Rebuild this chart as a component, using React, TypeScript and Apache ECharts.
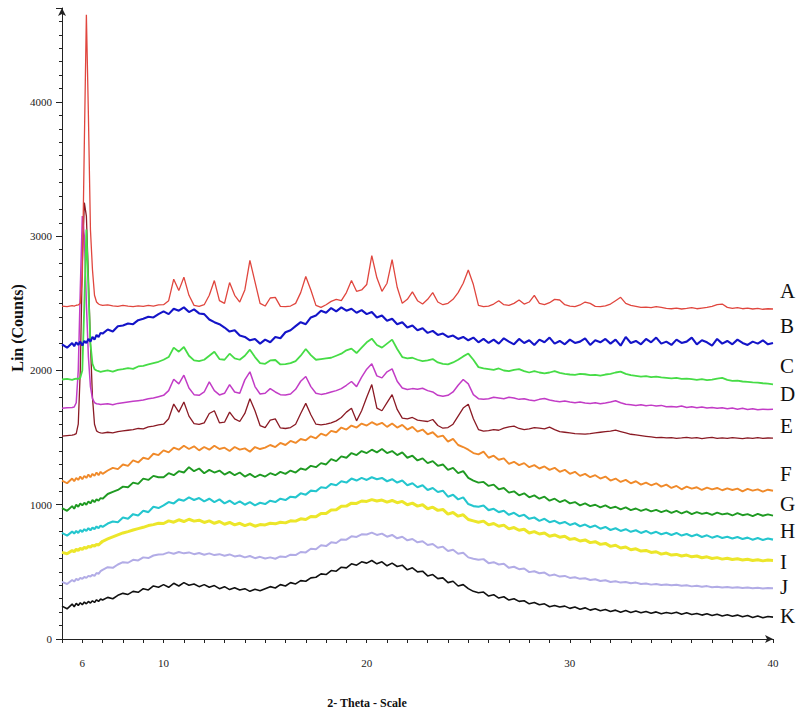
import React, { useEffect, useRef } from "react";
import * as echarts from "echarts";

// 2-theta scan grid (degrees)
const twoTheta = [
  5, 5.25, 5.5, 5.6, 5.7, 5.8, 5.9, 6, 6.1, 6.2, 6.3, 6.4, 6.5, 6.6, 6.7, 6.8, 6.9, 7, 7.25, 7.5, 7.75, 8, 8.25, 8.5, 8.75, 9, 9.25, 9.5, 9.75,
  10, 10.25, 10.5, 10.75, 11, 11.25, 11.5, 11.75, 12, 12.25, 12.5, 12.75, 13, 13.25, 13.5, 13.75, 14, 14.25, 14.5, 14.75,
  15, 15.25, 15.5, 15.75, 16, 16.25, 16.5, 16.75, 17, 17.25, 17.5, 17.75, 18, 18.25, 18.5, 18.75, 19, 19.25, 19.5, 19.75,
  20, 20.25, 20.5, 20.75, 21, 21.25, 21.5, 21.75, 22, 22.25, 22.5, 22.75, 23, 23.25, 23.5, 23.75, 24, 24.25, 24.5, 24.75,
  25, 25.25, 25.5, 25.75, 26, 26.25, 26.5, 26.75, 27, 27.25, 27.5, 27.75, 28, 28.25, 28.5, 28.75, 29, 29.25, 29.5, 29.75,
  30, 30.25, 30.5, 30.75, 31, 31.25, 31.5, 31.75, 32, 32.25, 32.5, 32.75, 33, 33.25, 33.5, 33.75, 34, 34.25, 34.5, 34.75,
  35, 35.25, 35.5, 35.75, 36, 36.25, 36.5, 36.75, 37, 37.25, 37.5, 37.75, 38, 38.25, 38.5, 38.75, 39, 39.25, 39.5, 39.75,
  40,
];

const sampleA = [
  2480, 2476, 2483, 2480, 2486, 2488, 2500, 2700, 3700, 4650, 3900, 3050, 2750, 2560, 2510, 2495, 2488, 2485, 2488, 2482, 2478, 2485, 2480, 2476, 2482, 2478, 2485, 2480, 2488,
  2490, 2520, 2680, 2595, 2695, 2560, 2485, 2478, 2490, 2560, 2670, 2520, 2500, 2655, 2560, 2510, 2600, 2820, 2660, 2500,
  2480, 2540, 2545, 2478, 2475, 2480, 2500, 2580, 2700, 2600, 2485, 2470, 2490, 2515, 2530, 2520, 2580, 2670, 2590, 2600,
  2640, 2855, 2690, 2590, 2650, 2825, 2620, 2500, 2530, 2585, 2520, 2495, 2530, 2580, 2510, 2490, 2500, 2530, 2580, 2650,
  2748, 2640, 2485, 2475, 2480, 2495, 2520, 2490, 2485, 2500, 2525, 2495, 2510, 2560, 2500, 2490, 2505, 2530, 2525, 2490,
  2480, 2475, 2488, 2510, 2500, 2478, 2475, 2482, 2495, 2520, 2545, 2500, 2485, 2478, 2470, 2472, 2468, 2475, 2470, 2462,
  2460, 2465, 2458, 2462, 2468, 2460, 2465, 2470, 2478, 2490, 2495, 2470, 2462, 2468, 2460, 2465, 2458, 2462, 2456, 2460,
  2458,
];

const sampleB = [
  2195, 2170, 2205, 2180, 2210, 2190, 2215, 2185, 2220, 2205, 2235, 2215, 2250, 2230, 2265, 2250, 2280, 2275, 2305, 2290, 2330, 2335, 2350, 2345, 2375, 2385, 2400, 2395, 2420,
  2440, 2420, 2460, 2445, 2470, 2435, 2455, 2425, 2420, 2380, 2360, 2345, 2320, 2290, 2300, 2260, 2250, 2225, 2235, 2200,
  2230, 2210, 2250, 2240, 2285, 2300, 2330, 2360, 2345, 2395, 2410, 2445, 2430, 2465, 2440, 2470, 2445, 2460, 2430, 2450,
  2420, 2435, 2395, 2410, 2370, 2385, 2345, 2360, 2320, 2335, 2300, 2315, 2280, 2295, 2265, 2275, 2250, 2260, 2235, 2250,
  2225, 2245, 2210, 2235, 2205, 2230, 2200, 2240, 2215, 2195, 2235, 2205, 2225, 2190, 2230, 2210, 2245, 2200, 2220, 2195,
  2230, 2205, 2215, 2240, 2190, 2225, 2210, 2235, 2200, 2230, 2185, 2250, 2205, 2220, 2195, 2235, 2210, 2245, 2200, 2215,
  2190, 2230, 2205, 2215, 2245, 2195, 2225, 2210, 2185, 2235, 2200, 2220, 2195, 2230, 2205, 2190, 2215, 2200, 2225, 2195,
  2205,
];

const sampleC = [
  1933, 1938, 1930, 1936, 1940, 1938, 1945, 2000, 2500, 3050, 2600, 2200, 2050, 2010, 2000, 1995, 1990, 1993, 2000, 1992, 2005, 2010, 2018, 2012, 2030, 2035, 2045, 2055, 2065,
  2080, 2100, 2170, 2140, 2175, 2110, 2075, 2070, 2080, 2110, 2140, 2085, 2080, 2125, 2090, 2080, 2110, 2155, 2100, 2055,
  2050, 2075, 2078, 2045, 2048, 2055, 2070, 2110, 2160, 2115, 2080, 2085, 2090, 2095, 2110, 2125, 2150, 2163, 2130, 2170,
  2210, 2237, 2190, 2170, 2200, 2230, 2160, 2100, 2090, 2095, 2080, 2070, 2075, 2085, 2060, 2050, 2045, 2060, 2080, 2105,
  2126, 2080, 2025, 2015, 2010, 2005, 2015, 2000, 1995, 2005, 2010, 1995, 1985, 1995, 1985, 1978, 1985, 1995, 1982, 1975,
  1970, 1968, 1975, 1972, 1965, 1968, 1962, 1970, 1975, 1985, 1992, 1975, 1965, 1960, 1955, 1958, 1950, 1955, 1948, 1945,
  1942, 1945, 1938, 1940, 1935, 1930, 1935, 1928, 1932, 1940, 1945, 1930, 1922, 1925, 1918, 1915, 1912, 1910, 1905, 1902,
  1896,
];

const sampleD = [
  1719, 1722, 1725, 1728, 1760, 2000, 2600, 3150, 3000, 2500, 2100, 1880, 1790, 1760, 1752, 1750, 1746, 1748, 1752, 1745, 1755, 1760, 1765, 1770, 1775, 1780, 1790, 1795, 1805,
  1815, 1850, 1935, 1900, 1965, 1870, 1820, 1815, 1840, 1915, 1850, 1818, 1830, 1895, 1840, 1830, 1930, 1990, 1880, 1825,
  1830, 1865, 1840, 1820, 1818, 1825, 1860, 1920, 1955, 1880, 1830, 1822, 1828, 1840, 1850, 1865, 1890, 1918, 1880, 1950,
  2010, 2050, 1960, 1945, 1990, 2012, 1920, 1870, 1858, 1865, 1860, 1868, 1850, 1840, 1815, 1808, 1815, 1840, 1890, 1933,
  1900, 1820, 1790, 1785, 1790, 1800, 1795, 1790, 1800, 1795, 1785, 1790, 1780, 1775, 1785, 1792, 1780, 1772, 1768, 1772,
  1765, 1760, 1765, 1758, 1755, 1760, 1752, 1758, 1765, 1775, 1760, 1748, 1745, 1740, 1745, 1738, 1742, 1735, 1740, 1730,
  1732, 1728, 1735, 1725, 1730, 1722, 1728, 1720, 1725, 1718, 1722, 1715, 1720, 1712, 1718, 1710, 1715, 1708, 1712, 1710,
  1711,
];

const sampleE = [
  1511, 1515, 1518, 1522, 1530, 1600, 2000, 2800, 3250, 3150, 2700, 2200, 1800, 1600, 1550, 1540, 1535, 1533, 1540, 1535, 1545, 1550, 1555, 1560, 1568, 1565, 1580, 1585, 1595,
  1600, 1640, 1750, 1690, 1765, 1660, 1605, 1598, 1610, 1680, 1700, 1610, 1615, 1690, 1640, 1620, 1680, 1790, 1700, 1590,
  1575, 1630, 1640, 1572, 1568, 1575, 1600, 1680, 1755, 1670, 1600, 1595, 1600, 1610, 1625, 1650, 1690, 1718, 1625, 1700,
  1800, 1895, 1720, 1700, 1760, 1820, 1710, 1645, 1640, 1650, 1630, 1625, 1620, 1635, 1590, 1570, 1575, 1600, 1660, 1720,
  1748, 1640, 1560, 1548, 1552, 1560, 1555, 1570, 1580, 1585, 1568, 1560, 1565, 1575, 1570, 1565, 1578, 1560, 1545, 1540,
  1535, 1530, 1528, 1526, 1530, 1535, 1540, 1545, 1548, 1555, 1545, 1535, 1525, 1520, 1515, 1510, 1505, 1500, 1502, 1498,
  1500, 1495, 1498, 1502, 1496, 1500, 1492, 1498, 1502, 1495, 1498, 1494, 1500, 1496, 1492, 1498, 1495, 1500, 1494, 1497,
  1496,
];

const sampleF = [
  1180, 1160, 1195, 1175, 1200, 1185, 1210, 1190, 1215, 1200, 1225, 1205, 1230, 1215, 1240, 1220, 1245, 1230, 1255, 1275, 1265, 1300, 1290, 1330, 1315, 1350, 1340, 1380, 1370,
  1405, 1390, 1425, 1410, 1440, 1415, 1435, 1405, 1430, 1410, 1440, 1415, 1425, 1400, 1430, 1410, 1420, 1395, 1430, 1415,
  1425, 1445, 1430, 1460, 1445, 1475, 1460, 1490, 1480, 1510, 1495, 1530, 1515, 1550, 1540, 1575, 1560, 1590, 1575, 1605,
  1590, 1615, 1595, 1610, 1580, 1605, 1575, 1595, 1560, 1580, 1545, 1560, 1525, 1540, 1505, 1515, 1470, 1490, 1445, 1430,
  1410, 1385, 1375, 1395, 1350, 1365, 1335, 1345, 1305, 1320, 1295, 1310, 1280, 1295, 1270, 1285, 1260, 1275, 1245, 1260,
  1230, 1245, 1215, 1230, 1205, 1220, 1195, 1210, 1180, 1195, 1170, 1185, 1160, 1175, 1150, 1165, 1145, 1160, 1135, 1150,
  1125, 1140, 1115, 1135, 1120, 1130, 1110, 1128, 1115, 1125, 1108, 1122, 1110, 1120, 1100, 1118, 1105, 1115, 1098, 1112,
  1104,
];

const sampleG = [
  975, 955, 990, 970, 1000, 985, 1010, 995, 1015, 1000, 1025, 1010, 1035, 1020, 1040, 1030, 1050, 1045, 1080, 1095, 1110, 1135, 1130, 1165, 1155, 1195, 1185, 1215, 1205,
  1205, 1235, 1220, 1250, 1240, 1280, 1250, 1270, 1235, 1260, 1240, 1255, 1225, 1245, 1220, 1240, 1210, 1230, 1205, 1225,
  1210, 1235, 1220, 1245, 1230, 1255, 1240, 1270, 1260, 1290, 1280, 1310, 1300, 1340, 1325, 1360, 1350, 1385, 1370, 1400,
  1385, 1410, 1390, 1415, 1385, 1400, 1370, 1390, 1350, 1365, 1330, 1345, 1310, 1325, 1290, 1300, 1260, 1275, 1235, 1250,
  1200, 1180, 1165, 1170, 1140, 1150, 1115, 1125, 1090, 1100, 1070, 1085, 1055, 1070, 1045, 1060, 1030, 1045, 1020, 1035,
  1010, 1020, 995, 1010, 990, 1000, 980, 995, 975, 985, 965, 980, 960, 972, 955, 968, 950, 962, 945, 958,
  940, 955, 935, 950, 930, 945, 932, 940, 925, 942, 928, 935, 920, 938, 922, 930, 915, 932, 918, 928,
  919,
];

const sampleH = [
  790, 770, 800, 785, 805, 790, 812, 798, 818, 805, 825, 810, 830, 818, 838, 825, 845, 835, 860, 875, 870, 905, 895, 930, 920, 955, 945, 985, 975,
  995, 1020, 1010, 1040, 1030, 1055, 1035, 1050, 1025, 1045, 1020, 1040, 1010, 1030, 1005, 1025, 1000, 1020, 995, 1015,
  1005, 1030, 1020, 1045, 1035, 1060, 1055, 1085, 1075, 1105, 1100, 1130, 1125, 1155, 1145, 1175, 1165, 1195, 1180, 1200,
  1185, 1205, 1190, 1200, 1175, 1190, 1165, 1180, 1145, 1160, 1130, 1145, 1110, 1125, 1095, 1105, 1060, 1075, 1040, 1055,
  1005, 990, 985, 995, 960, 970, 945, 955, 925, 940, 915, 925, 895, 905, 880, 895, 870, 880, 860, 872,
  850, 862, 840, 852, 832, 845, 822, 835, 812, 825, 805, 818, 798, 810, 790, 805, 785, 798, 780, 792,
  775, 790, 770, 782, 765, 778, 760, 772, 755, 768, 752, 762, 748, 760, 745, 755, 740, 752, 738, 748,
  740,
];

const sampleI = [
  645, 635, 660, 650, 668, 660, 675, 668, 682, 676, 690, 684, 698, 692, 705, 700, 715, 728, 745, 760, 775, 790, 800, 812, 822, 832, 845, 852, 862,
  860, 880, 870, 888, 875, 892, 878, 885, 868, 880, 862, 875, 855, 868, 850, 862, 845, 858, 840, 852,
  850, 862, 858, 870, 865, 880, 878, 895, 890, 912, 910, 935, 935, 960, 962, 988, 990, 1012, 1010, 1028,
  1025, 1038, 1028, 1035, 1020, 1032, 1015, 1025, 1000, 1012, 990, 1000, 970, 982, 958, 965, 930, 942, 915, 925,
  890, 880, 870, 878, 850, 860, 840, 848, 820, 830, 810, 818, 790, 800, 782, 790, 765, 775, 758, 765,
  742, 748, 730, 738, 718, 725, 705, 712, 690, 698, 678, 685, 665, 672, 655, 660, 645, 650, 632, 640,
  625, 630, 618, 625, 612, 618, 605, 612, 600, 606, 595, 602, 592, 598, 588, 594, 585, 590, 582, 588,
  585,
];

const sampleJ = [
  425, 410, 440, 428, 448, 438, 455, 448, 462, 455, 470, 465, 478, 470, 492, 485, 505, 515, 535, 530, 555, 572, 568, 590, 585, 608, 603, 622, 630,
  632, 645, 635, 648, 638, 645, 632, 640, 628, 638, 625, 632, 620, 630, 615, 622, 608, 618, 602, 612,
  600, 608, 598, 615, 610, 628, 625, 648, 645, 672, 668, 698, 692, 720, 715, 742, 740, 765, 760, 780,
  778, 792, 775, 785, 762, 775, 750, 762, 735, 745, 720, 728, 700, 708, 680, 688, 655, 665, 635, 642,
  608, 598, 590, 595, 565, 572, 555, 560, 530, 538, 520, 525, 498, 505, 490, 495, 472, 480, 465, 470,
  455, 460, 448, 452, 440, 445, 432, 438, 425, 430, 420, 424, 415, 420, 410, 414, 405, 410, 402, 406,
  400, 404, 396, 400, 392, 396, 390, 394, 386, 390, 384, 388, 382, 386, 380, 384, 378, 382, 376, 380,
  378,
];

const sampleK = [
  245, 225, 260, 240, 265, 250, 270, 255, 275, 262, 280, 268, 285, 272, 292, 280, 298, 290, 310, 300, 325, 340, 332, 355, 348, 375, 365, 395, 385,
  405, 385, 415, 395, 420, 400, 410, 390, 405, 385, 398, 375, 390, 368, 382, 365, 375, 355, 370, 360,
  375, 390, 380, 405, 395, 420, 410, 435, 430, 455, 460, 485, 480, 510, 505, 535, 530, 560, 550, 575,
  565, 585, 560, 575, 545, 565, 540, 550, 515, 530, 500, 505, 470, 480, 450, 455, 420, 430, 395, 405,
  375, 355, 345, 350, 320, 330, 305, 315, 290, 300, 280, 285, 262, 272, 255, 262, 240, 250, 238, 245,
  228, 238, 222, 232, 215, 225, 210, 220, 205, 215, 200, 212, 198, 208, 195, 205, 192, 202, 188, 198,
  190, 200, 185, 195, 182, 190, 178, 188, 175, 185, 172, 180, 170, 178, 165, 175, 160, 172, 158, 168,
  163,
];

const sampleNames = ["A", "B", "C", "D", "E", "F", "G", "H", "I", "J", "K"];
const sampleValues = [sampleA, sampleB, sampleC, sampleD, sampleE, sampleF, sampleG, sampleH, sampleI, sampleJ, sampleK];
const xLabelValues = [6, 10, 20, 30, 40];
const yLabelValues = [0, 1000, 2000, 3000, 4000];

// styling (not data)
const sampleColors = ["#e0463e", "#1414c8", "#46dc46", "#c23cc6", "#8a1a24", "#f08a2a", "#1f9a22", "#24c6ce", "#ece62a", "#b2ace6", "#111111"];
const sampleWidths = [1.3, 2.1, 1.8, 1.5, 1.3, 1.9, 1.9, 2.1, 3.0, 2.0, 1.6];
const labelTops = [292, 327, 367, 395, 427, 475, 505, 532, 563, 588, 617];

const SERIF = "'Liberation Serif', 'Times New Roman', serif";

export default function App() {
  const ref = useRef<HTMLDivElement>(null);

  useEffect(() => {
    document.body.style.margin = "0";
    if (!ref.current) return;
    const chart = echarts.init(ref.current, undefined, { renderer: "svg" });

    const series: any[] = sampleNames
      .map((name, i) => ({
        name,
        type: "line",
        showSymbol: false,
        symbol: "none",
        silent: true,
        z: 20 - i,
        lineStyle: { color: sampleColors[i], width: sampleWidths[i] },
        data: twoTheta.map((x, k) => [x, sampleValues[i][k]]),
      }))
      .reverse();

    const letterTexts = sampleNames.map((name, i) => ({
      type: "text",
      left: 780,
      top: labelTops[i] - 12,
      style: { text: name, fontFamily: SERIF, fontSize: 21, fill: "#111" },
    }));

    chart.setOption({
      animation: false,
      backgroundColor: "#ffffff",
      grid: { left: 62, right: 27, top: 8, bottom: 76, containLabel: false },
      xAxis: {
        type: "value",
        min: 5,
        max: 40,
        interval: 1,
        axisLine: {
          show: true,
          lineStyle: { color: "#222", width: 1 },
          symbol: ["none", "arrow"],
          symbolSize: [6, 8],
        },
        axisTick: { show: true, length: 4, lineStyle: { color: "#222" } },
        axisLabel: {
          margin: 18,
          fontFamily: SERIF,
          fontSize: 11,
          color: "#222",
          formatter: (v: number) => (xLabelValues.includes(v) ? String(v) : ""),
        },
        splitLine: { show: false },
      },
      yAxis: {
        type: "value",
        min: 0,
        max: 4700,
        interval: 1000,
        axisLine: {
          show: true,
          lineStyle: { color: "#222", width: 1 },
          symbol: ["none", "arrow"],
          symbolSize: [6, 8],
        },
        axisTick: { show: true, length: 6, lineStyle: { color: "#222" } },
        minorTick: { show: true, splitNumber: 10, length: 3, lineStyle: { color: "#222" } },
        axisLabel: {
          margin: 10,
          fontFamily: SERIF,
          fontSize: 11,
          color: "#222",
          formatter: (v: number) => (yLabelValues.includes(v) ? String(v) : ""),
        },
        splitLine: { show: false },
      },
      graphic: [
        {
          type: "text",
          x: 17,
          y: 328,
          rotation: Math.PI / 2,
          style: {
            text: "Lin (Counts)",
            fontFamily: SERIF,
            fontSize: 16,
            fontWeight: "bold",
            fill: "#111",
            align: "center",
            verticalAlign: "middle",
          },
        },
        {
          type: "text",
          x: 367,
          y: 703,
          style: {
            text: "2- Theta - Scale",
            fontFamily: SERIF,
            fontSize: 12,
            fontWeight: "bold",
            fill: "#111",
            align: "center",
            verticalAlign: "middle",
          },
        },
        ...letterTexts,
      ],
      series,
    });

    return () => chart.dispose();
  }, []);

  return <div ref={ref} style={{ width: 800, height: 715 }} />;
}
